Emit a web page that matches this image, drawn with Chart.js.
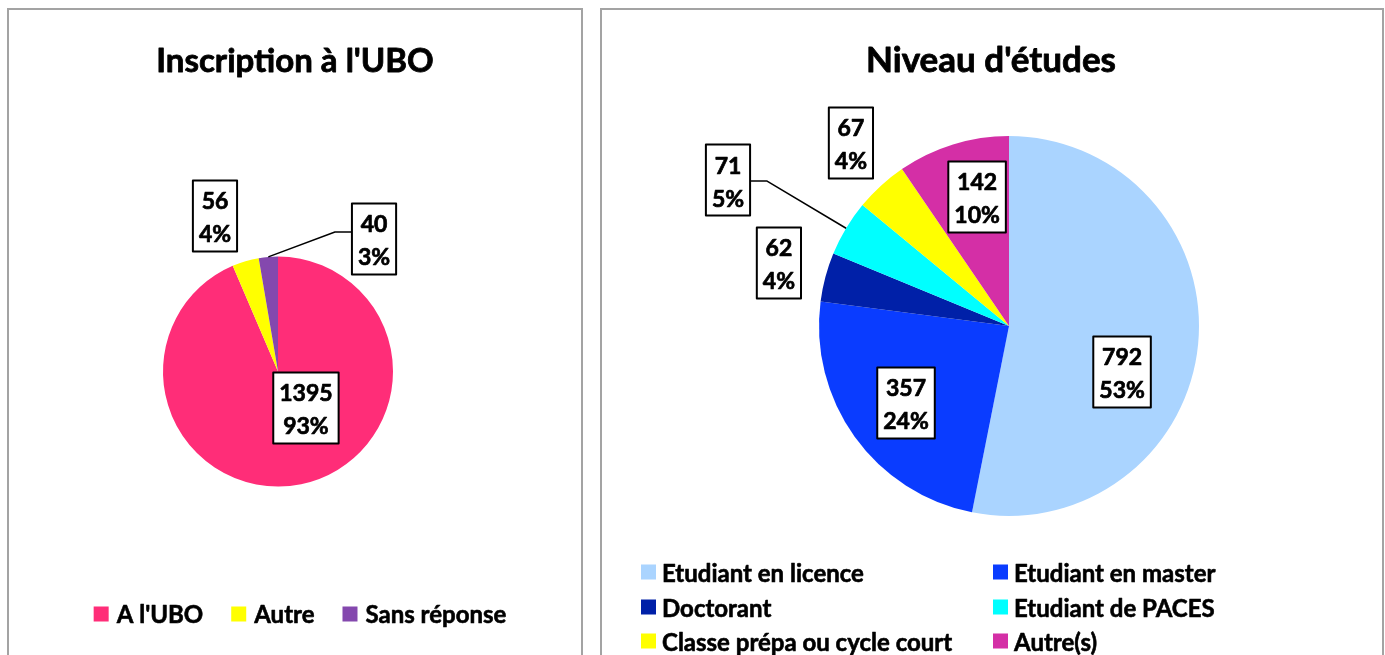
<!DOCTYPE html>
<html><head><meta charset="utf-8">
<script src="https://cdn.jsdelivr.net/npm/chart.js@4.4.0/dist/chart.umd.min.js"></script>
<style>
html,body{margin:0;padding:0;background:#fff;width:1385px;height:655px;overflow:hidden;}
#c1{position:absolute;left:0;top:0;}
#c2{position:absolute;left:592px;top:0;}
.panel{position:absolute;border:2px solid #a3a3a3;border-bottom:none;box-sizing:border-box;pointer-events:none;}
</style></head><body>
<canvas id="c1" width="592" height="655"></canvas>
<canvas id="c2" width="793" height="655"></canvas>
<div class="panel" style="left:7px;top:8px;width:576px;height:660px"></div>
<div class="panel" style="left:600px;top:8px;width:784px;height:660px"></div>
<script>
// ---- Data ----
const uboTitle = "Inscription à l'UBO";
const uboLabels = ["A l'UBO", "Autre", "Sans réponse"];
const uboValues = [1395, 56, 40];
const uboPercents = [93, 4, 3];
const uboColors = ["#ff2d78", "#ffff00", "#8448ae"];

const niveauTitle = "Niveau d'études";
const niveauLabels = ["Etudiant en licence", "Etudiant en master", "Doctorant", "Etudiant de PACES", "Classe prépa ou cycle court", "Autre(s)"];
const niveauValues = [792, 357, 62, 71, 67, 142];
const niveauPercents = [53, 24, 4, 5, 4, 10];
const niveauColors = ["#aad4ff", "#0a3cff", "#0020a8", "#00ffff", "#ffff00", "#d42fa6"];

const FONT = "Lato, 'Open Sans', sans-serif";

// label placement relative to pie centre, in units of radius
const uboLabelPos = [[0.243, 0.317], [-0.548, -1.352], [0.835, -1.152]];
const uboLeader = [false, false, true];
const niveauLabelPos = [[0.595, 0.242], [-0.542, 0.405], [-1.211, -0.332], [-1.479, -0.768], [-0.832, -0.963], [-0.168, -0.679]];
const niveauLeader = [false, false, false, true, false, false];

function boldText(ctx, t, x, y, sw) {
  ctx.lineWidth = sw;
  ctx.strokeStyle = '#000';
  ctx.lineJoin = 'round';
  ctx.strokeText(t, x, y);
  ctx.fillText(t, x, y);
}

const decorPlugin = {
  id: 'decor',
  afterDatasetsDraw(chart, args, opts) {
    const ctx = chart.ctx;
    const meta = chart.getDatasetMeta(0);
    const ds = chart.data.datasets[0];
    ctx.save();
    // title
    ctx.fillStyle = '#000';
    ctx.font = 'bold ' + opts.titleSize + 'px ' + FONT;
    ctx.textAlign = 'center';
    ctx.textBaseline = 'middle';
    boldText(ctx, opts.title, opts.titleX, opts.titleY, 0.8);
    // data labels
    ctx.font = 'bold 23px ' + FONT;
    meta.data.forEach((arc, i) => {
      const r = arc.outerRadius;
      const cx = arc.x + opts.labelPos[i][0] * r;
      const cy = arc.y + opts.labelPos[i][1] * r;
      const l1 = String(ds.data[i]);
      const l2 = opts.percents[i] + '%';
      const w = Math.max(ctx.measureText(l1).width, ctx.measureText(l2).width) + 12;
      const h = 71;
      if (opts.leader[i]) {
        const mid = (arc.startAngle + arc.endAngle) / 2;
        const ex = arc.x + Math.cos(mid) * r;
        const ey = arc.y + Math.sin(mid) * r;
        const side = ex < cx ? -1 : 1;
        const bx = cx + side * w / 2;
        const elbow = bx + side * 17;
        const ly = cy + opts.leaderDy;
        ctx.beginPath();
        ctx.moveTo(bx, ly);
        ctx.lineTo(elbow, ly);
        ctx.lineTo(ex, ey);
        ctx.lineWidth = 1.5;
        ctx.strokeStyle = '#000';
        ctx.stroke();
      }
      ctx.fillStyle = '#fff';
      ctx.fillRect(cx - w / 2, cy - h / 2, w, h);
      ctx.lineWidth = 2;
      ctx.strokeStyle = '#000';
      ctx.strokeRect(cx - w / 2, cy - h / 2, w, h);
      ctx.fillStyle = '#000';
      boldText(ctx, l1, cx, cy - 14, 0.7);
      boldText(ctx, l2, cx, cy + 19, 0.7);
    });
    // legend
    ctx.font = 'bold 24px ' + FONT;
    ctx.textAlign = 'left';
    const labels = chart.data.labels;
    const colors = ds.backgroundColor;
    if (opts.legendMode === 'row') {
      const sq = 15, gap = 8, itemGap = 28;
      const widths = labels.map(t => sq + gap + ctx.measureText(t).width);
      const total = widths.reduce((a, b) => a + b, 0) + itemGap * (labels.length - 1);
      let x = opts.legendCenter - total / 2;
      labels.forEach((t, i) => {
        ctx.fillStyle = colors[i];
        ctx.fillRect(x, opts.legendY - sq / 2, sq, sq);
        ctx.fillStyle = '#000';
        boldText(ctx, t, x + sq + gap, opts.legendY + 1, 0.6);
        x += widths[i] + itemGap;
      });
    } else {
      const sq = 15, gap = 6;
      labels.forEach((t, i) => {
        const col = i % 2, row = Math.floor(i / 2);
        const x = opts.legendCols[col];
        const y = opts.legendRows[row];
        ctx.fillStyle = colors[i];
        ctx.fillRect(x, y - sq / 2 - 1, sq, sq);
        ctx.fillStyle = '#000';
        boldText(ctx, t, x + sq + gap, y + 1, 0.6);
      });
    }
    ctx.restore();
  }
};

function makePie(id, labels, values, colors, padding, decor) {
  return new Chart(document.getElementById(id), {
    type: 'pie',
    data: { labels: labels, datasets: [{ data: values, backgroundColor: colors, borderWidth: 0 }] },
    options: {
      responsive: false,
      devicePixelRatio: 1,
      animation: false,
      events: [],
      layout: { padding: padding },
      plugins: { legend: { display: false }, title: { display: false }, tooltip: { enabled: false }, decor: decor }
    },
    plugins: [decorPlugin]
  });
}

makePie('c1', uboLabels, uboValues, uboColors,
  { left: 163, right: 199, top: 256, bottom: 168 },
  { title: uboTitle, titleSize: 33, titleX: 295, titleY: 61, percents: uboPercents, labelPos: uboLabelPos, leader: uboLeader, leaderDy: -7,
    legendMode: 'row', legendCenter: 300, legendY: 614 });

makePie('c2', niveauLabels, niveauValues, niveauColors,
  { left: 227, right: 186, top: 136, bottom: 139 },
  { title: niveauTitle, titleSize: 35, titleX: 399, titleY: 61, percents: niveauPercents, labelPos: niveauLabelPos, leader: niveauLeader, leaderDy: 1,
    legendMode: 'grid', legendCols: [49, 401], legendRows: [573, 608, 642] });
</script>
</body></html>
